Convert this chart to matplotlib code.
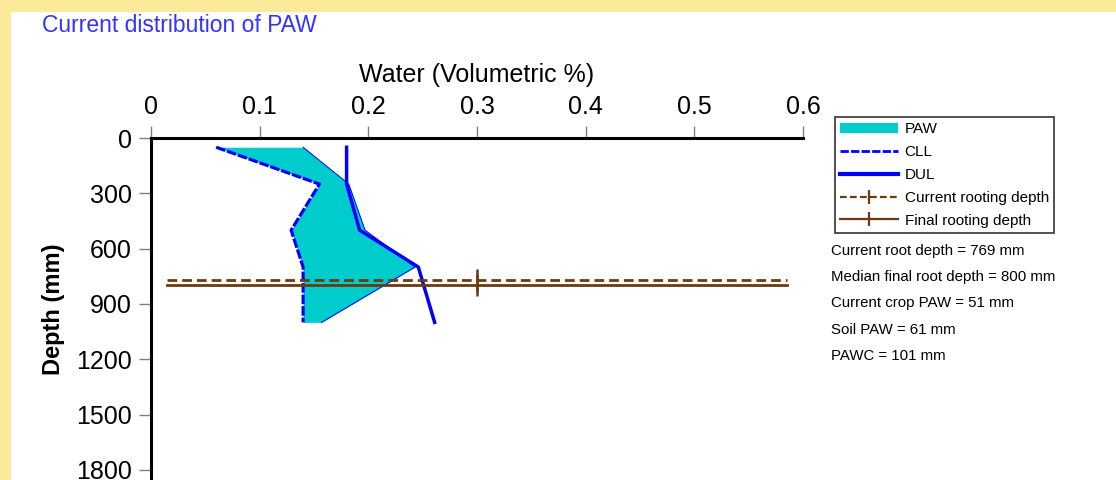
import matplotlib
matplotlib.use("Agg")
import matplotlib.pyplot as plt
from matplotlib.patches import Rectangle, Patch
from matplotlib.lines import Line2D

plt.rcParams['font.family'] = ['Liberation Sans', 'DejaVu Sans']

# soil profile (layer mid depths, mm) and volumetric water
depth = [50, 250, 500, 700, 1000]
cll = [0.06, 0.155, 0.129, 0.14, 0.14]
dul = [0.18, 0.18, 0.192, 0.246, 0.261]
water = [0.14, 0.182, 0.197, 0.243, 0.157]

# rooting depth lines
root_x = [0.015, 0.3, 0.585]
current_root = 769
final_root = 800

x_ticks = [0, 0.1, 0.2, 0.3, 0.4, 0.5, 0.6]
x_labels = ['0', '0.1', '0.2', '0.3', '0.4', '0.5', '0.6']
y_ticks = [0, 300, 600, 900, 1200, 1500, 1800]

stats = ["Current root depth = 769 mm",
         "Median final root depth = 800 mm",
         "Current crop PAW = 51 mm",
         "Soil PAW = 61 mm",
         "PAWC = 101 mm"]

W, H = 1116, 480
fig = plt.figure(figsize=(W / 100, H / 100), dpi=100)
fig.patch.set_facecolor('#FAEA9A')
fig.patches.append(Rectangle((11 / W, 0), 1, (H - 12) / H, transform=fig.transFigure,
                             facecolor='white', edgecolor='none', zorder=-10))

ax = fig.add_axes([151 / W, 0, (803 - 151) / W, (H - 138) / H])
ax.set_facecolor('white')
ax.set_zorder(1)

brown = '#6B3A0E'
blue = '#0000FF'

ax.fill_betweenx(depth, cll, water, color='#00CCCC', linewidth=0, zorder=2)
ax.plot(water, depth, color=blue, lw=0.7, zorder=3)
ax.plot(cll, depth, color=blue, lw=2.3, ls=(0, (3, 0.6)), zorder=4)
ax.plot(dul, depth, color=blue, lw=2.5, zorder=4)

ax.plot(root_x, [current_root] * 3, color=brown, lw=2.0, ls=(0, (3.5, 1.8)),
        marker='|', markevery=[1], ms=16, mew=1.8, zorder=5)
ax.plot(root_x, [final_root] * 3, color=brown, lw=2.0,
        marker='|', markevery=[1], ms=16, mew=1.8, zorder=5)

ax.set_xlim(0, 0.6)
ax.set_ylim(1855, 0)
ax.xaxis.tick_top()
ax.xaxis.set_label_position('top')
ax.set_xticks(x_ticks)
ax.set_xticklabels(x_labels)
ax.set_yticks(y_ticks)
ax.tick_params(axis='x', length=9, width=1, color='#808080', pad=5, labelsize=18)
ax.tick_params(axis='y', length=9, width=1, color='#808080', pad=5, labelsize=18)
for s in ['right', 'bottom']:
    ax.spines[s].set_visible(False)
for s in ['top', 'left']:
    ax.spines[s].set_linewidth(2.2)
    ax.spines[s].set_color('black')

ax.set_xlabel('Water (Volumetric %)', fontsize=18, labelpad=9)
ax.set_ylabel('Depth (mm)', fontsize=17, fontweight='bold', labelpad=8)

fig.text(42 / W, 1 - 26 / H, 'Current distribution of PAW', color='#3333FF',
         fontsize=16.5, va='center', ha='left')

handles = [Patch(facecolor='#00CCCC', edgecolor='none'),
           Line2D([], [], color=blue, lw=2, ls=(0, (3, 0.8))),
           Line2D([], [], color=blue, lw=3),
           Line2D([], [], color=brown, lw=1.6, ls=(0, (3, 1.5)), marker='|', ms=10, mew=1.6),
           Line2D([], [], color=brown, lw=1.6, marker='|', ms=10, mew=1.6)]
labels = ['PAW', 'CLL', 'DUL', 'Current rooting depth', 'Final rooting depth']
leg = fig.legend(handles, labels, loc='upper left',
                 bbox_to_anchor=(835 / W, 1 - 117 / H), fontsize=11,
                 frameon=True, fancybox=False, edgecolor='black',
                 handlelength=3.8, handletextpad=0.4, borderpad=0.35,
                 labelspacing=0.58, borderaxespad=0)
leg.get_frame().set_linewidth(1.2)

for i, s in enumerate(stats):
    fig.text(831 / W, 1 - (251 + i * 26.2) / H, s, fontsize=10.8,
             va='center', ha='left')

fig.savefig('out.png', dpi=100, facecolor=fig.get_facecolor())
